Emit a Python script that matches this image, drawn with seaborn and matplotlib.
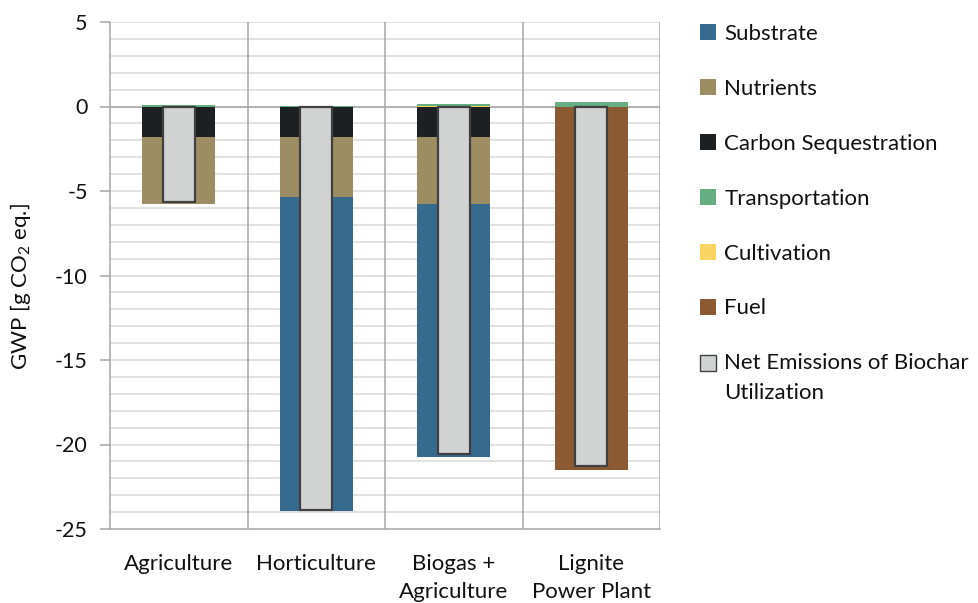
import matplotlib
matplotlib.use("Agg")
import matplotlib.pyplot as plt
from matplotlib.patches import Patch
import numpy as np
import seaborn as sns

# Global warming potential per use case (g CO2 eq.)
categories = ["Agriculture", "Horticulture", "Biogas +\nAgriculture", "Lignite\nPower Plant"]
substrate = [0.0, -18.55, -14.95, 0.0]
nutrients = [-4.00, -3.58, -4.00, 0.0]
carbon_sequestration = [-1.78, -1.78, -1.78, 0.0]
transportation = [0.10, 0.03, 0.10, 0.25]
cultivation = [0.0, 0.0, 0.05, 0.0]
fuel = [0.0, 0.0, 0.0, -21.50]
net_emissions = [-5.68, -23.88, -20.58, -21.25]

legend_labels = ["Substrate", "Nutrients", "Carbon Sequestration", "Transportation",
                 "Cultivation", "Fuel", "Net Emissions of Biochar\nUtilization"]

colors = {
    "Substrate": "#376A8F",
    "Nutrients": "#9E8C62",
    "Carbon Sequestration": "#1C2023",
    "Transportation": "#66AD82",
    "Cultivation": "#FCD464",
    "Fuel": "#8B5A33",
    "Net": "#D1D3D2",
}

sns.set_theme(style="white")
plt.rcParams["font.family"] = ["Lato", "DejaVu Sans"]
plt.rcParams["mathtext.fontset"] = "custom"
plt.rcParams["mathtext.rm"] = "Lato"

fig = plt.figure(figsize=(9.79, 6.03), dpi=100)
ax = fig.add_axes([110 / 979, 1 - 529 / 603, 550 / 979, 507 / 603])

cat = np.array(categories)
sub = np.array(substrate)
nut = np.array(nutrients)
cs = np.array(carbon_sequestration)
tr = np.array(transportation)
cu = np.array(cultivation)
fu = np.array(fuel)

stack_w = 0.53
# Negative stack, drawn from the outermost cumulative total inward
layers_neg = [
    (cs + nut + sub, colors["Substrate"]),
    (cs + nut, colors["Nutrients"]),
    (cs, colors["Carbon Sequestration"]),
    (fu, colors["Fuel"]),
]
# Positive stack: cultivation at the base, transportation above it
layers_pos = [
    (cu + tr, colors["Transportation"]),
    (cu, colors["Cultivation"]),
]
for vals, col in layers_neg + layers_pos:
    sns.barplot(x=cat, y=vals, color=col, width=stack_w, saturation=1,
                linewidth=0, ax=ax, zorder=3)

sns.barplot(x=cat, y=np.array(net_emissions), color=colors["Net"], width=0.23,
            saturation=1, edgecolor="#404040", linewidth=1.6, ax=ax, zorder=4)

# Axes styling
ax.set_xlim(-0.5, 3.5)
ax.set_ylim(-25, 5)
ax.set_yticks(np.arange(-25, 6, 5))
ax.grid(False)
for y in np.arange(-24, 6, 1):
    ax.axhline(y, color="#D9D9D9", lw=1.1, zorder=1)
ax.axhline(0, color="#A6A6A6", lw=1.1, zorder=2)
for xv in [0.5, 1.5, 2.5, 3.5]:
    ax.axvline(xv, color="#A6A6A6", lw=1.1, zorder=1)

for side in ["top", "right"]:
    ax.spines[side].set_visible(False)
for side in ["left", "bottom"]:
    ax.spines[side].set_color("#A6A6A6")
    ax.spines[side].set_linewidth(1.1)
    ax.spines[side].set_zorder(2)

ax.tick_params(axis="y", which="major", left=True, length=7, width=1.1,
               color="#A6A6A6", labelsize=15.5, pad=9, labelcolor="#111111")
ax.tick_params(axis="x", bottom=False, labelsize=16, pad=12, labelcolor="#111111")
ax.set_yticklabels([str(v) for v in np.arange(-25, 6, 5)])
for lbl in ax.get_xticklabels():
    lbl.set_linespacing(1.5)

ax.set_xlabel("")
ax.set_ylabel("")
fig.text(21 / 979, 1 - 287 / 603, r"GWP [g CO$_{\mathregular{2}}$ eq.]",
         rotation=90, ha="center", va="center", fontsize=16, color="#111111")

handles = [Patch(facecolor=colors["Substrate"], edgecolor="none"),
           Patch(facecolor=colors["Nutrients"], edgecolor="none"),
           Patch(facecolor=colors["Carbon Sequestration"], edgecolor="none"),
           Patch(facecolor=colors["Transportation"], edgecolor="none"),
           Patch(facecolor=colors["Cultivation"], edgecolor="none"),
           Patch(facecolor=colors["Fuel"], edgecolor="none"),
           Patch(facecolor=colors["Net"], edgecolor="#404040", linewidth=1.0)]
leg = fig.legend(handles, legend_labels, loc="upper left",
                 bbox_to_anchor=(700 / 979, 1 - 24 / 603), frameon=False,
                 fontsize=16, handlelength=0.72, handleheight=0.72,
                 handletextpad=0.38, labelspacing=1.57, borderaxespad=0,
                 borderpad=0)
for t in leg.get_texts():
    t.set_color("#111111")
    t.set_linespacing(1.6)
# Align the two-line entry's swatch with its first line
net_handle = leg.legend_handles[-1]
net_handle.set_y(net_handle.get_y() + 11)

fig.savefig("out.png", dpi=100)
